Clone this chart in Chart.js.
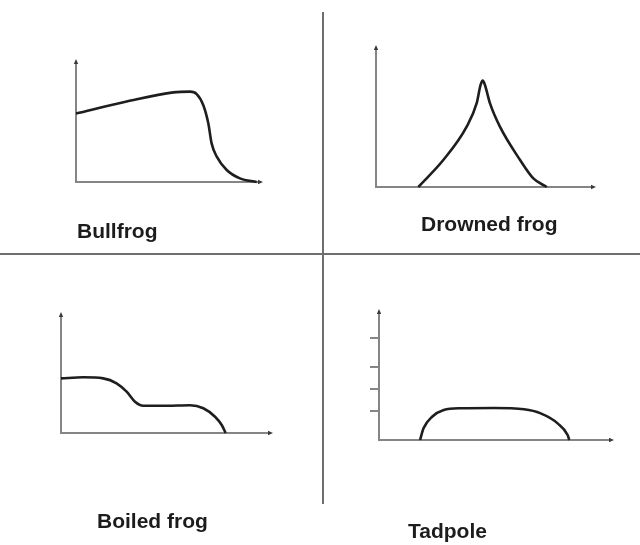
<!DOCTYPE html>
<html>
<head>
<meta charset="utf-8">
<script src="https://cdn.jsdelivr.net/npm/chart.js@4.4.1/dist/chart.umd.min.js"></script>
<style>
  html, body { margin: 0; padding: 0; background: #fff; }
  #wrap { position: relative; width: 640px; height: 545px; overflow: hidden; background: #fff; }
  canvas { position: absolute; left: 0; top: 0; }
  .lbl { position: absolute; font-family: "Liberation Sans", Arial, sans-serif; font-weight: bold;
         font-size: 21px; line-height: 21px; color: #1c1c1c; white-space: nowrap; }
  .div { position: absolute; background: #6e6e6e; }
</style>
</head>
<body>
<div id="wrap">
  <div class="div" style="left:322px; top:12px; width:2px; height:492px;"></div>
  <div class="div" style="left:0px; top:253px; width:640px; height:2px;"></div>
  <canvas id="c1" width="640" height="545"></canvas>
  <canvas id="c2" width="640" height="545"></canvas>
  <canvas id="c3" width="640" height="545"></canvas>
  <canvas id="c4" width="640" height="545"></canvas>
  <div class="lbl" style="left:77px; top:220px;">Bullfrog</div>
  <div class="lbl" style="left:421px; top:213px;">Drowned frog</div>
  <div class="lbl" style="left:97px; top:510px;">Boiled frog</div>
  <div class="lbl" style="left:408px; top:520px;">Tadpole</div>
</div>
<script>
// ---- Data (arbitrary units, 0-100 on each axis) ----
const panelTitles = ["Bullfrog", "Drowned frog", "Boiled frog", "Tadpole"];

const bullfrogX = [0, 27.5, 52.9, 62, 65.6, 69.2, 71.9, 73.7, 76.5, 81.9, 89.1, 98.2];
const bullfrogY = [57, 67, 74.7, 75.3, 73.3, 64, 48.9, 32.2, 21.1, 10, 3, 0];

const drownedX = [19.5, 31, 41.8, 46.4, 48.2, 49.2, 50.2, 52.5, 57.1, 66.4, 72.5, 78.7];
const drownedY = [0, 19.4, 43.4, 60.3, 73.4, 76.5, 73.4, 60.3, 43.4, 19.4, 6.2, 0];

const boiledX = [0, 10.7, 20.2, 26.6, 31.4, 35.4, 39.4, 50.6, 61.7, 68.1, 73.7, 76.9, 78.8];
const boiledY = [46.3, 47.2, 46.3, 42.1, 35, 26.5, 23.1, 23.1, 23.5, 21, 13.8, 6.8, 0];

const tadpoleX = [17.7, 19.2, 22.9, 27.9, 35.1, 49.5, 62.5, 69.7, 77, 81.3, 82];
const tadpoleY = [0, 9.1, 18.2, 23.4, 24.8, 25, 24, 20.8, 13, 3.9, 0];

const tadpoleTicks = [23, 40, 57, 80];

// ---- Styles ----
const axisColor = "#858585";
const curveColor = "#1e1e1e";

const arrowPlugin = {
  id: "axisArrows",
  afterDraw(chart) {
    const a = chart.chartArea, ctx = chart.ctx;
    ctx.save();
    ctx.fillStyle = "#3a3a3a";
    // y axis arrow (top)
    ctx.beginPath();
    ctx.moveTo(a.left, a.top - 3);
    ctx.lineTo(a.left - 2.2, a.top + 2);
    ctx.lineTo(a.left + 2.2, a.top + 2);
    ctx.closePath();
    ctx.fill();
    // x axis arrow (right)
    ctx.beginPath();
    ctx.moveTo(a.right + 3, a.bottom);
    ctx.lineTo(a.right - 2, a.bottom - 2.2);
    ctx.lineTo(a.right - 2, a.bottom + 2.2);
    ctx.closePath();
    ctx.fill();
    ctx.restore();
  }
};

function makePanel(id, xs, ys, pad, yTicks) {
  const pts = xs.map((x, i) => ({ x: x, y: ys[i] }));
  const yScale = {
    type: "linear", min: 0, max: 100,
    ticks: { display: false },
    grid: { display: false, drawTicks: false },
    border: { display: true, color: axisColor, width: 2 }
  };
  if (yTicks) {
    yScale.grid = { display: true, drawOnChartArea: false, drawTicks: true, tickLength: 9,
                    color: axisColor, lineWidth: 2 };
    yScale.afterBuildTicks = (s) => { s.ticks = yTicks.map(v => ({ value: v })); };
  }
  new Chart(document.getElementById(id), {
    type: "line",
    data: {
      datasets: [{
        data: pts,
        borderColor: curveColor,
        borderWidth: 2.6,
        pointRadius: 0,
        fill: false,
        cubicInterpolationMode: "monotone",
        clip: false
      }]
    },
    options: {
      responsive: false,
      animation: false,
      events: [],
      layout: { padding: pad },
      plugins: { legend: { display: false }, tooltip: { enabled: false }, title: { display: false } },
      scales: {
        x: {
          type: "linear", min: 0, max: 100,
          ticks: { display: false },
          grid: { display: false, drawTicks: false },
          border: { display: true, color: axisColor, width: 2 }
        },
        y: yScale
      }
    },
    plugins: [arrowPlugin]
  });
}

makePanel("c1", bullfrogX, bullfrogY, { left: 76, right: 380, top: 62, bottom: 363 });
makePanel("c2", drownedX, drownedY, { left: 376, right: 47, top: 48, bottom: 358 });
makePanel("c3", boiledX, boiledY, { left: 61, right: 370, top: 315, bottom: 112 });
makePanel("c4", tadpoleX, tadpoleY, { left: 370, right: 29, top: 312, bottom: 105 }, tadpoleTicks);
</script>
</body>
</html>
